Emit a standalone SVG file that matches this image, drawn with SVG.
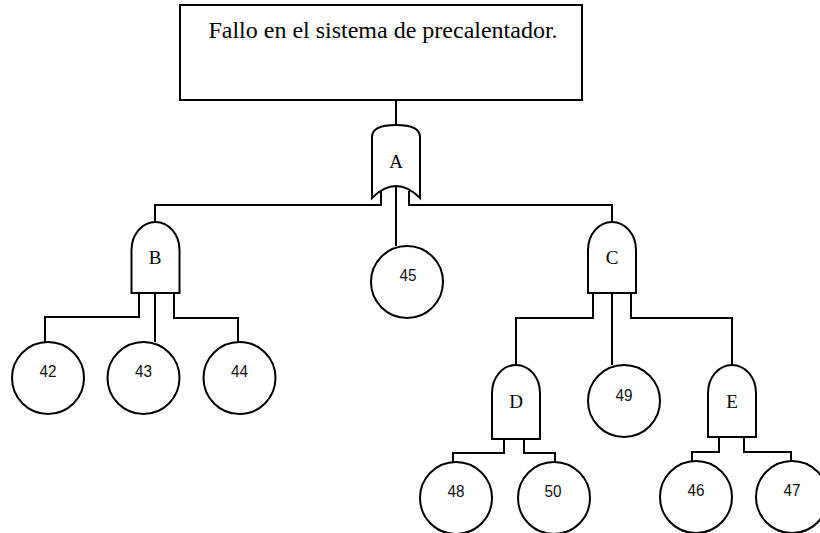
<svg xmlns="http://www.w3.org/2000/svg" width="820" height="533" viewBox="0 0 820 533">
<style>
.s{fill:#fff;stroke:#000;stroke-width:2}
.c{fill:none;stroke:#000;stroke-width:2}
.g{font-family:"Liberation Serif","Times New Roman",serif;font-size:19px;text-anchor:middle;fill:#000}
.n{font-family:"Liberation Sans",Arial,sans-serif;font-size:17px;text-anchor:middle;fill:#111}
</style>
<rect width="820" height="533" fill="#fff"/>
<g id="connectors" class="c">
<path d="M396,100V125"/>
<path d="M381,191V205H155V222"/>
<path d="M409,191V205H612V222"/>
<path d="M396,186V246"/>
<path d="M139,293V317H45V342"/>
<path d="M155,293V342"/>
<path d="M174,293V318H238V342"/>
<path d="M593,293V318H516V365"/>
<path d="M612,293V365"/>
<path d="M631,293V318H732V365"/>
<path d="M504,439V453H453V462"/>
<path d="M524,439V453H555V462"/>
<path d="M719,437V452H692V461"/>
<path d="M744,437V452H791V461"/>
</g>
<g id="top">
<rect class="s" x="180" y="5" width="402" height="95"/>
<text x="383" y="38" style="font-family:'Liberation Serif','Times New Roman',serif;font-size:24px;text-anchor:middle">Fallo en el sistema de precalentador.</text>
</g>
<g id="gateA">
<path class="s" d="M372,198V137Q372,125 396,125Q420,125 420,137V198Q396,174 372,198Z"/>
<text class="g" x="396" y="168">A</text>
</g>
<g id="gateB">
<path class="s" d="M131.5,293V250A24,28 0 0 1 179.5,250V293Z"/>
<text class="g" x="155" y="264">B</text>
</g>
<g id="gateC">
<path class="s" d="M588,293V250A24,28 0 0 1 636,250V293Z"/>
<text class="g" x="612" y="264">C</text>
</g>
<g id="gateD">
<path class="s" d="M492,439V393A24,28 0 0 1 540,393V439Z"/>
<text class="g" x="516" y="408">D</text>
</g>
<g id="gateE">
<path class="s" d="M708,437V393A24,28 0 0 1 756,393V437Z"/>
<text class="g" x="732" y="408">E</text>
</g>
<g id="e42"><circle class="s" cx="48" cy="378" r="36"/><text class="n" x="48" y="377" textLength="17" lengthAdjust="spacingAndGlyphs">42</text></g>
<g id="e43"><circle class="s" cx="143.5" cy="378" r="36"/><text class="n" x="143.5" y="377" textLength="17" lengthAdjust="spacingAndGlyphs">43</text></g>
<g id="e44"><circle class="s" cx="239.5" cy="378" r="36"/><text class="n" x="239.5" y="377" textLength="17" lengthAdjust="spacingAndGlyphs">44</text></g>
<g id="e45"><circle class="s" cx="407" cy="282" r="36"/><text class="n" x="408" y="281" textLength="17" lengthAdjust="spacingAndGlyphs">45</text></g>
<g id="e49"><circle class="s" cx="624" cy="401" r="36"/><text class="n" x="624" y="401" textLength="17" lengthAdjust="spacingAndGlyphs">49</text></g>
<g id="e48"><circle class="s" cx="456" cy="498" r="36"/><text class="n" x="456" y="497" textLength="17" lengthAdjust="spacingAndGlyphs">48</text></g>
<g id="e50"><circle class="s" cx="554" cy="498" r="36"/><text class="n" x="553" y="497" textLength="17" lengthAdjust="spacingAndGlyphs">50</text></g>
<g id="e46"><circle class="s" cx="696" cy="497" r="36"/><text class="n" x="696" y="496" textLength="17" lengthAdjust="spacingAndGlyphs">46</text></g>
<g id="e47"><circle class="s" cx="792" cy="497" r="36"/><text class="n" x="792" y="496" textLength="17" lengthAdjust="spacingAndGlyphs">47</text></g>
</svg>
